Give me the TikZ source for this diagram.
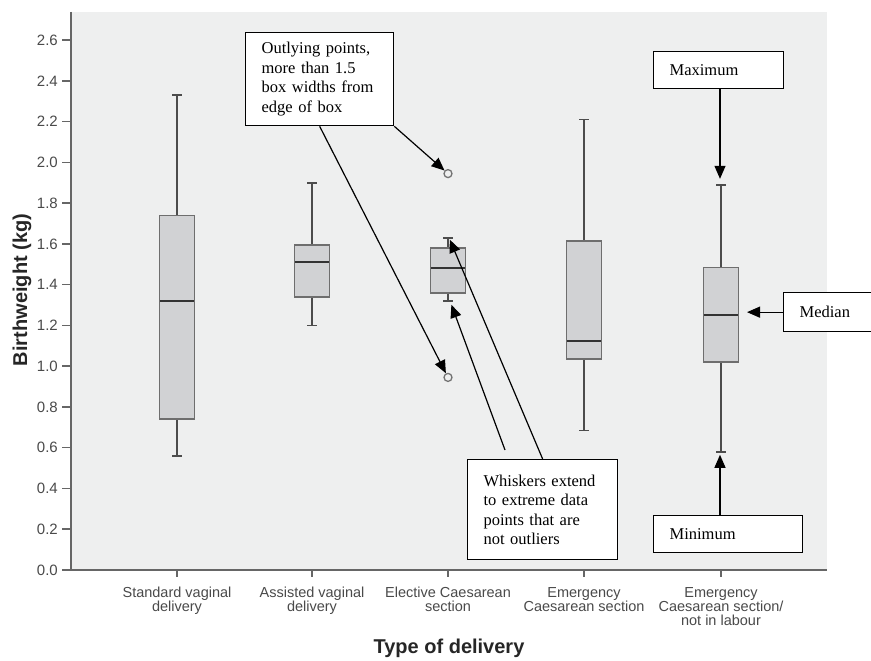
\documentclass[tikz,border=0pt]{standalone}
\usepackage{fontspec}
\setmainfont{Liberation Serif}
\setsansfont{Liberation Sans}
\usetikzlibrary{arrows.meta}

\definecolor{panelgray}{HTML}{EEEFEF}
\definecolor{boxgray}{HTML}{D1D2D4}
\definecolor{edgegray}{HTML}{6E6E6E}
\definecolor{axisgray}{HTML}{666666}
\definecolor{labelgray}{HTML}{4A4A4A}

\tikzset{
  bwbox/.style={fill=boxgray, draw=edgegray, line width=1.5pt},
  whisker/.style={draw=black!70, line width=1.5pt},
  medline/.style={draw=black!80, line width=2pt},
  outpt/.style={circle, draw=black!55, line width=1.3pt, minimum size=8pt, inner sep=0pt},
  callbox/.style={draw=black, line width=1.3pt, fill=white, anchor=north west, align=left,
    inner xsep=16pt, font=\fontsize{16.5}{19.5}\selectfont},
  callout/.style={draw=black, line width=1.2pt, -{Triangle[length=13pt,width=11pt]}},
  ticklab/.style={font=\sffamily\fontsize{15}{15}\selectfont, text=labelgray, anchor=east, inner sep=0pt},
  catlab/.style={font=\sffamily\fontsize{14.5}{14}\selectfont, text=labelgray, align=center,
    anchor=north, inner sep=0pt},
  axtitle/.style={font=\sffamily\bfseries\fontsize{20}{20}\selectfont, text=black!85},
}

% x, min, q1, median, q3, max
\newcommand{\boxwhisk}[6]{%
  \draw[whisker] (#1,#2) -- (#1,#3) (#1,#5) -- (#1,#6)
    (#1-5,#2) -- (#1+5,#2) (#1-5,#6) -- (#1+5,#6);
  \filldraw[bwbox] (#1-17.5,#3) rectangle (#1+17.5,#5);
  \draw[medline] (#1-17,#4) -- (#1+17,#4);
}

\begin{document}
\begin{tikzpicture}[x=1pt, y=-1pt]
  \useasboundingbox (0,0) rectangle (871,661);
  \fill[white] (0,0) rectangle (871,661);
  \fill[panelgray] (71,12) rectangle (827,570);

  % data part, values in kg
  \begin{scope}[shift={(0,570)}, y=203.8pt]
    \foreach \t in {0.0,0.2,0.4,0.6,0.8,1.0,1.2,1.4,1.6,1.8,2.0,2.2,2.4,2.6} {
      \draw[axisgray, line width=1.5pt] (62,\t) -- (71,\t);
      \node[ticklab] at (58,\t) {\t};
    }
    \boxwhisk{177}{0.56}{0.74}{1.32}{1.74}{2.33}
    \boxwhisk{312}{1.20}{1.34}{1.51}{1.595}{1.90}
    \boxwhisk{448}{1.32}{1.36}{1.48}{1.58}{1.63}
    \boxwhisk{584}{0.685}{1.035}{1.125}{1.615}{2.21}
    \boxwhisk{721}{0.58}{1.02}{1.25}{1.485}{1.89}

    \node[outpt] (out3a) at (448,1.945) {};
    \node[outpt] (out3b) at (448,0.945) {};
    \coordinate (cap3lo) at (450,1.32);
    \coordinate (cap3hi) at (449,1.63);
    \coordinate (max5) at (720,1.89);
    \coordinate (med5) at (747,1.25);
    \coordinate (min5) at (720,0.58);
  \end{scope}

  \draw[axisgray, line width=2pt] (71,12) -- (71,570) -- (827,570);
  \foreach \cx in {177,312,448,584,721}
    \draw[axisgray, line width=1.5pt] (\cx,570) -- (\cx,577);

  \node[catlab] (cat1) at (177,587) {Standard vaginal\\delivery};
  \node[catlab] (cat2) at (312,587) {Assisted vaginal\\delivery};
  \node[catlab] (cat3) at (448,587) {Elective Caesarean\\section};
  \node[catlab] (cat4) at (584,587) {Emergency\\Caesarean section};
  \node[catlab] (cat5) at (721,587) {Emergency\\Caesarean section/\\not in labour};

  \node[axtitle] (xtitle) at (449,648) {Type of delivery};
  \node[axtitle, rotate=90] (ytitle) at (22,290) {Birthweight (kg)};

  % call-outs
  \node[callbox, text width=116pt, minimum height=93pt] (outlbox) at (245,32)
    {Outlying points,\\more than 1.5\\box widths from\\edge of box};
  \node[callbox, text width=118pt, minimum height=100pt] (whiskbox) at (467,459)
    {Whiskers extend\\to extreme data\\points that are\\not outliers};
  \node[callbox, text width=98pt, minimum height=37pt] (maxbox) at (653,51) {Maximum};
  \node[callbox, text width=100pt, minimum height=39pt] (medbox) at (783,292) {Median};
  \node[callbox, text width=117pt, minimum height=37pt] (minbox) at (653,515) {Minimum};

  \coordinate (wstart) at (505,450);
  \draw[callout] (outlbox.south east) -- (out3a);
  \draw[callout] (outlbox.south) -- (out3b);
  \draw[callout, shorten >=4pt] (wstart) -- (cap3lo);
  \draw[callout, shorten >=2pt] (whiskbox.north) -- (cap3hi);
  \draw[callout, shorten >=6pt] (maxbox.south -| max5) -- (max5);
  \draw[callout] (medbox.west) -- (medbox.west -| med5);
  \draw[callout, shorten >=3pt] (minbox.north -| min5) -- (min5);
\end{tikzpicture}
\end{document}
